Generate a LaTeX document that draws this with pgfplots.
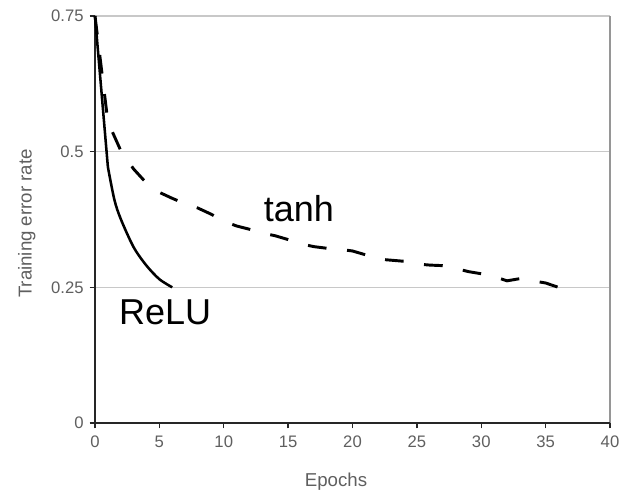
\documentclass[border=0pt]{standalone}
\usepackage{fontspec}
\setmainfont{Liberation Sans}
\usepackage{pgfplots}
\pgfplotsset{compat=1.18}
\usetikzlibrary{calc}

\definecolor{gridgray}{RGB}{200,200,200}
\definecolor{framegray}{RGB}{150,150,150}
\definecolor{labelgray}{RGB}{95,95,95}

\begin{document}
\begin{tikzpicture}
\begin{axis}[name=ax, scale only axis, width=386.25pt, height=305.25pt,
  xmin=0, xmax=40, ymin=0, ymax=0.75,
  xtick={0,5,...,40}, ytick={0,0.25,0.5,0.75},
  yticklabels={0,0.25,0.5,0.75},
  xtick pos=left, ytick pos=left, tick align=outside,
  major tick length=4pt,
  tick style={black!85, line width=1.1pt},
  axis line style={draw=none},
  ymajorgrids, grid style={gridgray, line width=1.1pt},
  /pgf/number format/assume math mode=true,
  tick label style={font=\fontsize{12.5}{14}\selectfont, text=labelgray},
  xticklabel style={yshift=-2pt},
  yticklabel style={xshift=-1pt},
  xlabel={Epochs}, ylabel={Training error rate},
  label style={font=\fontsize{14}{16}\selectfont, text=labelgray},
  xlabel style={at={(axis description cs:0.468,-0.157)}, anchor=base},
  ylabel style={at={(axis description cs:-0.123,0.49)}, anchor=base},
  clip=false]
% right frame (gray) and left/bottom axes (black)
\draw[framegray, line width=1.1pt] (rel axis cs:1,0) -- (rel axis cs:1,1);
\draw[black!85, line width=1.4pt] (rel axis cs:0,1) -- (rel axis cs:0,0) -- (rel axis cs:1,0);
% ReLU
\addplot[black, line width=1.9pt] coordinates {(0,0.75)(1,0.472)};
\addplot[black, line width=1.9pt, smooth, tension=0.5] coordinates {
(1,0.472)(1.5,0.412)(2,0.376)(3,0.324)(4,0.29)(5,0.265)(6,0.25)};
% tanh
\addplot[black, line width=2.2pt, dash pattern=on 14pt off 15.5pt] coordinates {
(0,0.75)(1,0.555)(2,0.502)(3,0.468)(4,0.442)(5,0.425)(6,0.414)(7,0.404)
(8,0.396)(9,0.385)(10,0.372)(11,0.363)(12,0.357)(13,0.35)(14,0.345)(15,0.338)
(16,0.33)(17,0.325)(18,0.322)(19,0.32)(20,0.317)(21,0.31)(22,0.302)(23,0.3)
(24,0.298)(25,0.293)(26,0.291)(27,0.29)(28,0.285)(29,0.279)(30,0.275)(31,0.27)
(32,0.262)(33,0.266)(34,0.262)(35,0.258)(36,0.25)};
\node[anchor=base west, inner sep=0pt, font=\fontsize{27}{30}\selectfont] at (axis cs:1.85,0.1806) {ReLU};
\node[anchor=base west, inner sep=0pt, font=\fontsize{27}{30}\selectfont] at (axis cs:13.1,0.372) {tanh};
\end{axis}
\pgfresetboundingbox
\path ($(ax.south west)+(-71.25pt,-51pt)$) rectangle ($(ax.north east)+(6.75pt,12pt)$);
\end{tikzpicture}
\end{document}
